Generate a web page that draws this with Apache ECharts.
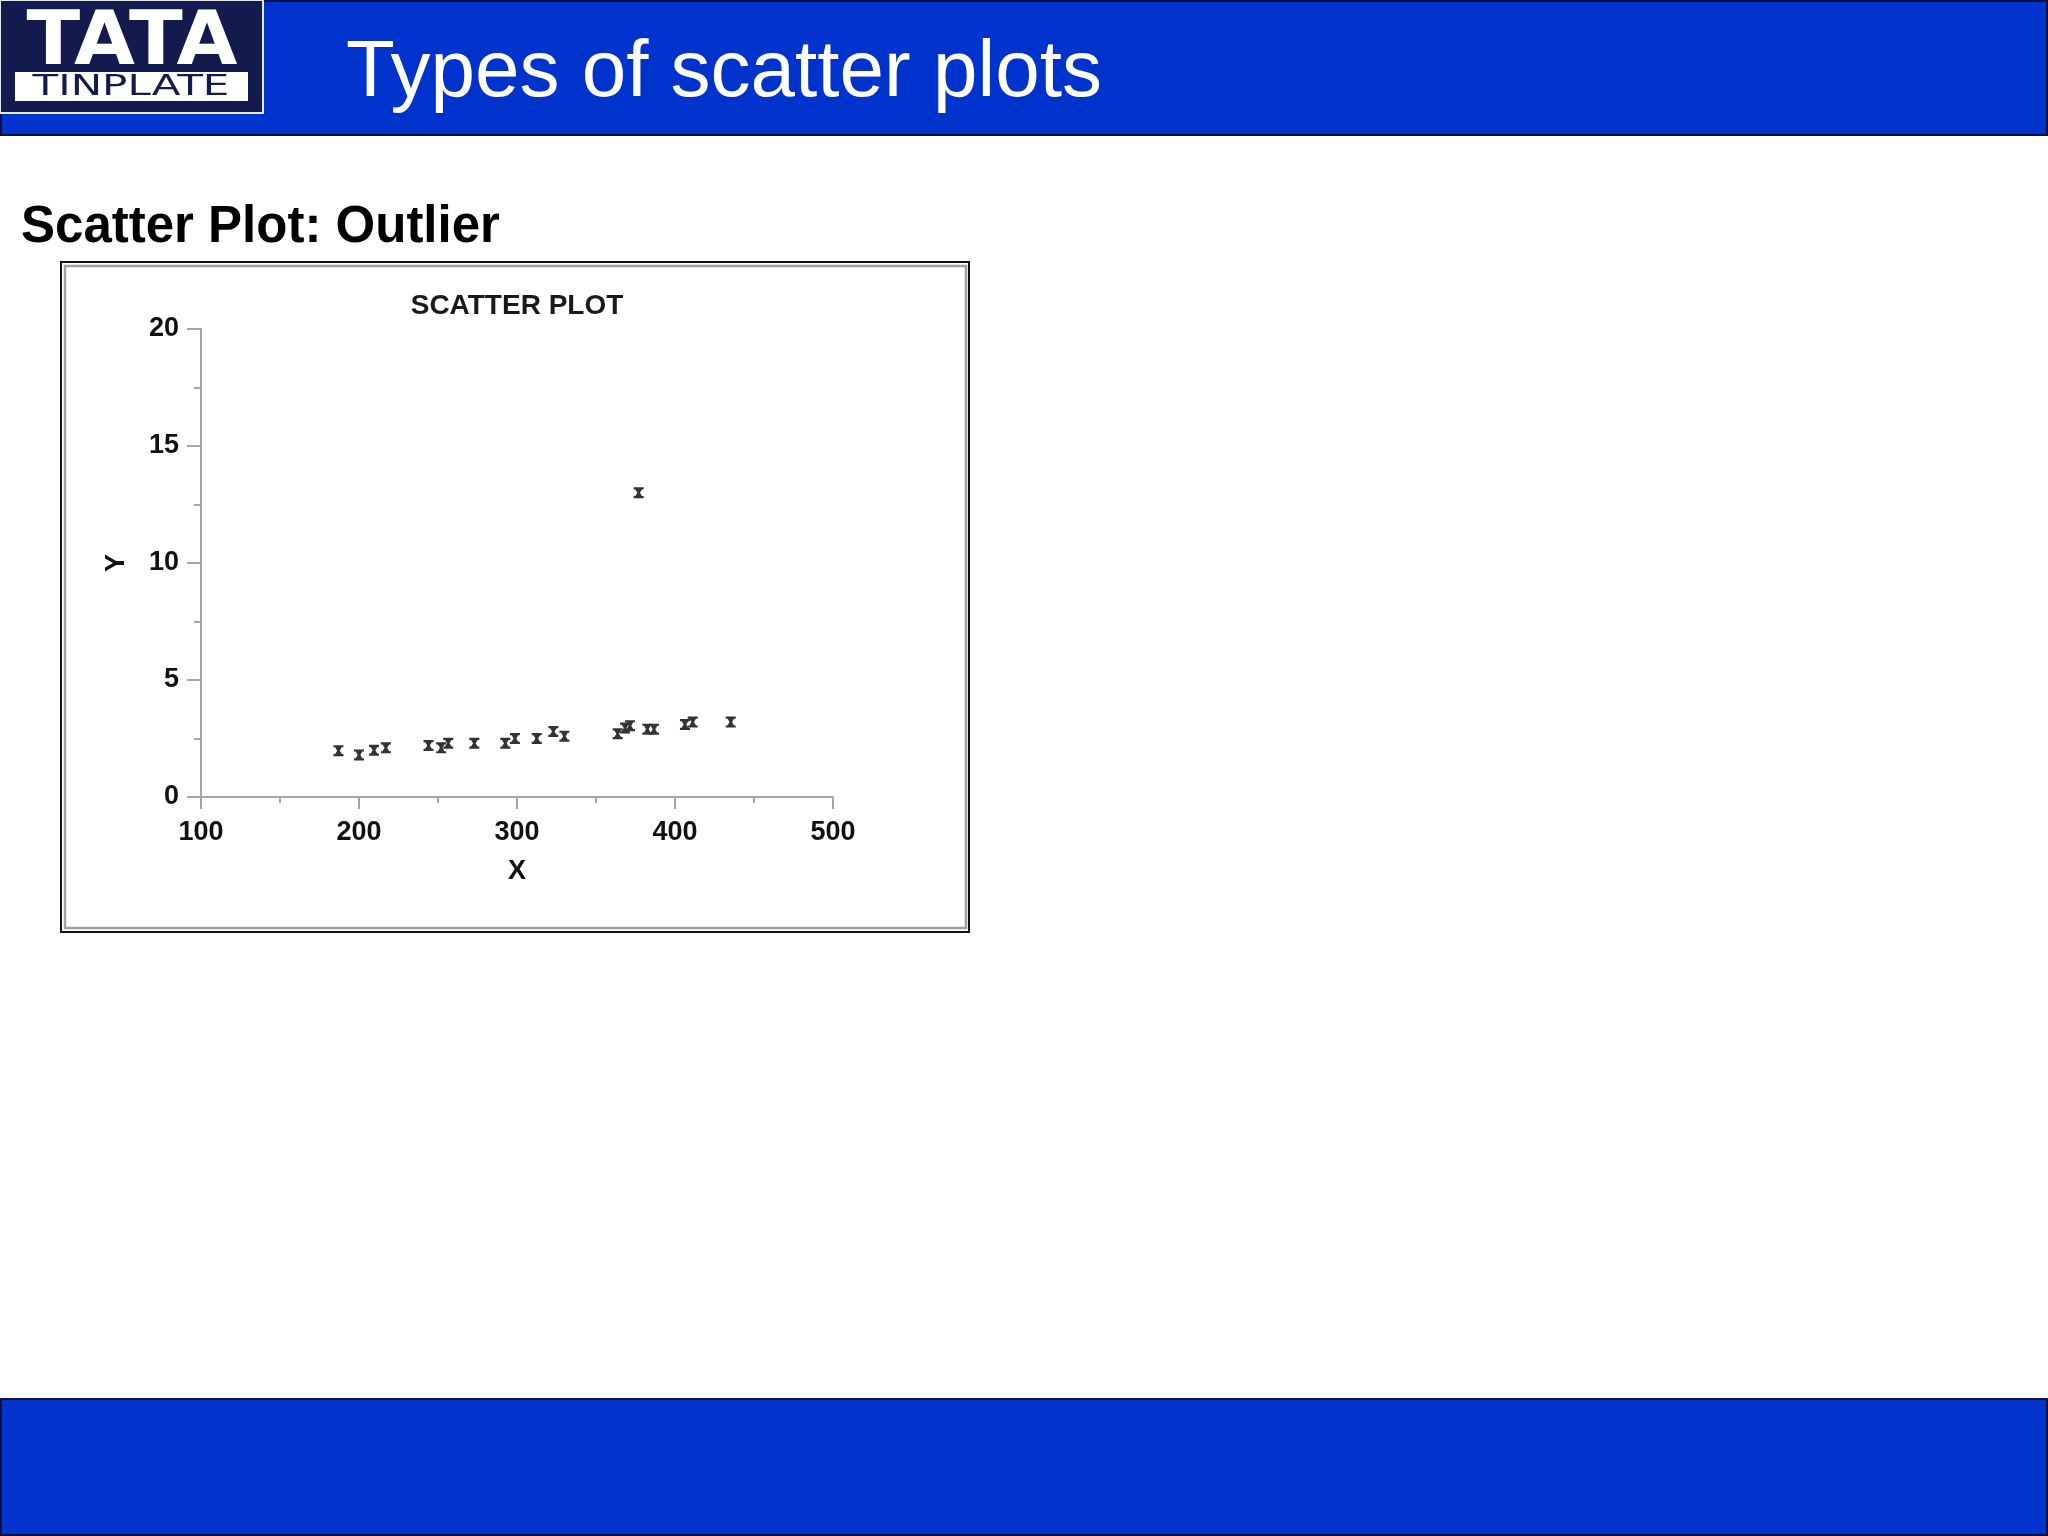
<!DOCTYPE html>
<html>
<head>
<meta charset="utf-8">
<script src="https://cdn.jsdelivr.net/npm/echarts@6/dist/echarts.min.js"></script>
<style>
  html, body { margin: 0; padding: 0; background: #ffffff; }
  #chart { width: 2048px; height: 1536px; }
</style>
</head>
<body>
<div id="chart"></div>
<script>
// ---- data ----
const xValues = [187, 200, 209.5, 217, 244, 252, 256.5, 273, 292.6, 298.7, 312.5, 323, 330, 363.7, 368.4, 371.5, 377, 382.5, 386.7, 406.3, 411.2, 435.3];
const yValues = [1.98, 1.8, 2.0, 2.1, 2.2, 2.1, 2.3, 2.3, 2.3, 2.5, 2.5, 2.8, 2.6, 2.7, 2.95, 3.05, 13.0, 2.9, 2.9, 3.1, 3.2, 3.2];
const xTicks = [100, 200, 300, 400, 500];
const yTicks = [0, 5, 10, 15, 20];
const pageTitle = 'Types of scatter plots';
const subTitle = 'Scatter Plot: Outlier';
const chartTitle = 'SCATTER PLOT';
const xName = 'X';
const yName = 'Y';

const points = xValues.map((x, i) => [x, yValues[i]]);

const BLUE = '#0033cc';
const NAVY = '#131b4e';
const FONT = '"Liberation Sans", Arial, Helvetica, sans-serif';

const markerPath = 'path://M0,0 H10 V2 H8.3 L6.3,5 L8.3,8 H10 V10 H0 V8 H1.7 L3.7,5 L1.7,2 H0 Z';

const chart = echarts.init(document.getElementById('chart'), null, { renderer: 'canvas' });

const option = {
  backgroundColor: '#ffffff',
  animation: false,
  grid: {
    left: 201, top: 329, width: 632, height: 468,
    show: true, borderColor: '#a6a6a6', borderWidth: 2, backgroundColor: 'transparent'
  },
  xAxis: {
    type: 'value',
    min: xTicks[0], max: xTicks[xTicks.length - 1], interval: 100,
    name: xName, nameLocation: 'middle', nameGap: 61,
    nameTextStyle: { fontFamily: FONT, fontWeight: 'bold', fontSize: 27, color: '#111' },
    axisLine: { show: true, lineStyle: { color: '#a6a6a6', width: 2 } },
    axisTick: { show: true, inside: false, length: 12, lineStyle: { color: '#a6a6a6', width: 2 } },
    minorTick: { show: true, splitNumber: 2, length: 6, lineStyle: { color: '#a6a6a6', width: 2 } },
    splitLine: { show: false },
    axisLabel: { margin: 22, fontFamily: FONT, fontWeight: 'bold', fontSize: 27, color: '#111' }
  },
  yAxis: {
    type: 'value',
    min: yTicks[0], max: yTicks[yTicks.length - 1], interval: 5,
    name: yName, nameLocation: 'middle', nameGap: 71, nameRotate: 90,
    nameTextStyle: { fontFamily: FONT, fontWeight: 'bold', fontSize: 27, color: '#111' },
    axisLine: { show: true, lineStyle: { color: '#a6a6a6', width: 2 } },
    axisTick: { show: true, inside: false, length: 14, lineStyle: { color: '#a6a6a6', width: 2 } },
    minorTick: { show: true, splitNumber: 2, length: 7, lineStyle: { color: '#a6a6a6', width: 2 } },
    splitLine: { show: false },
    axisLabel: { margin: 22, padding: [10, 0, 0, 0], fontFamily: FONT, fontWeight: 'bold', fontSize: 27, color: '#111' }
  },
  series: [{
    type: 'scatter',
    data: points,
    symbol: markerPath,
    symbolSize: [10, 11],
    itemStyle: { color: '#333333', opacity: 1 },
    silent: true
  }],
  graphic: [
    // header band
    { type: 'rect', z: 0, shape: { x: 1, y: 1, width: 2046, height: 134 },
      style: { fill: BLUE, stroke: '#0d1240', lineWidth: 2 } },
    // logo
    { type: 'rect', z: 1, shape: { x: 0, y: 0, width: 263, height: 113 },
      style: { fill: NAVY, stroke: '#e8e8f0', lineWidth: 2 } },
    { type: 'text', z: 2, x: 132, y: 45, scaleX: 1.05,
      style: { text: 'TATA', fill: '#ffffff', font: 'bold 75px "DejaVu Sans", sans-serif',
               align: 'center', verticalAlign: 'middle' } },
    { type: 'rect', z: 2, shape: { x: 15, y: 72, width: 233, height: 29 },
      style: { fill: '#ffffff' } },
    { type: 'text', z: 3, x: 131, y: 88, scaleX: 1.5,
      style: { text: 'TINPLATE', fill: NAVY, font: '28px "DejaVu Sans", sans-serif',
               align: 'center', verticalAlign: 'middle' } },
    // page title
    { type: 'text', z: 2, x: 346, y: 74,
      style: { text: pageTitle, fill: '#ffffff', font: '80px ' + FONT,
               align: 'left', verticalAlign: 'middle' } },
    // subtitle
    { type: 'text', z: 2, x: 21, y: 228,
      style: { text: subTitle, fill: '#000000', font: 'bold 51px ' + FONT,
               align: 'left', verticalAlign: 'middle' } },
    // chart title
    { type: 'text', z: 3, x: 517, y: 306,
      style: { text: chartTitle, fill: '#1a1a1a', font: 'bold 28px ' + FONT,
               align: 'center', verticalAlign: 'middle' } },
    // chart frame (outer black, inner grey)
    { type: 'rect', z: 0, shape: { x: 61, y: 262, width: 908, height: 670 },
      style: { fill: '#ffffff', stroke: '#111111', lineWidth: 2 } },
    { type: 'rect', z: 1, shape: { x: 65, y: 266, width: 901, height: 662 },
      style: { fill: 'none', stroke: '#a0a0a0', lineWidth: 2.5 } },
    // footer band
    { type: 'rect', z: 0, shape: { x: 1, y: 1399, width: 2046, height: 136 },
      style: { fill: BLUE, stroke: '#0d1240', lineWidth: 2 } }
  ]
};

chart.setOption(option);
</script>
</body>
</html>
